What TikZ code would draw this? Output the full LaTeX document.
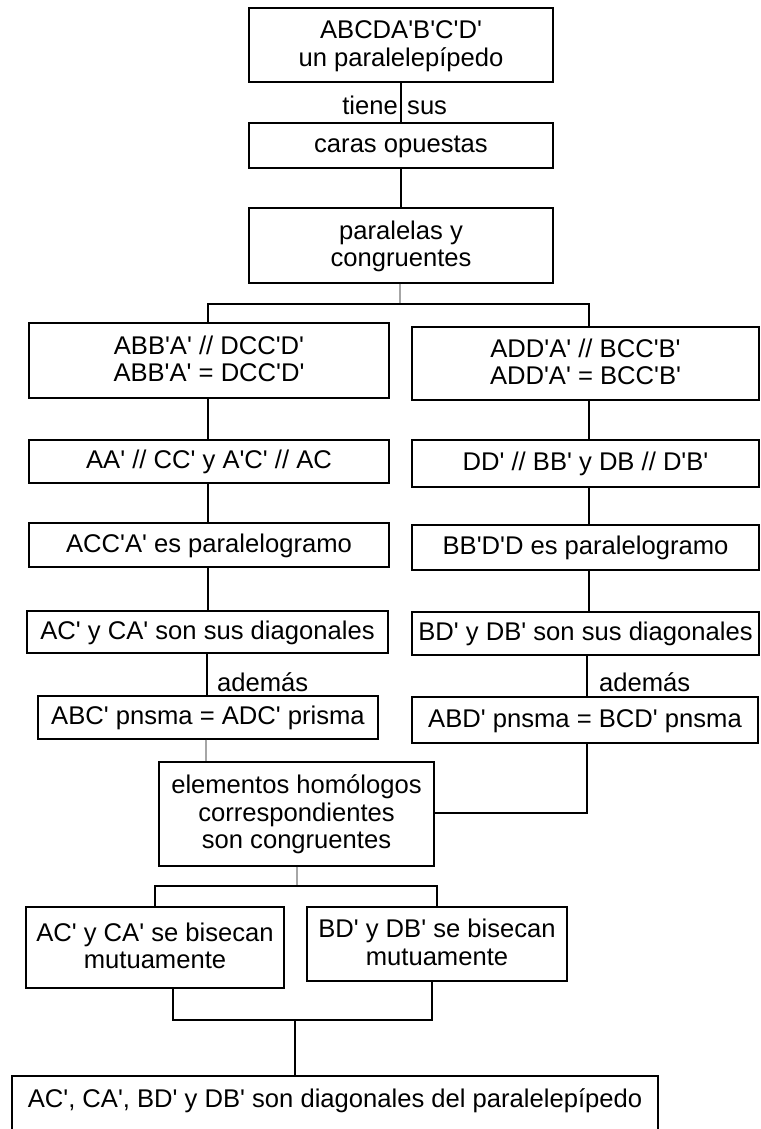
\documentclass[tikz,border=0pt]{standalone}
\usepackage{fontspec}
\newfontfamily\lib{Liberation Sans}
\newcommand\fs{\lib\fontsize{25.6}{27.5}\selectfont}
\newcommand\stt{\rule[-5pt]{0pt}{25pt}}
\begin{document}
\begin{tikzpicture}[x=1pt,y=-1pt,
 box/.style={draw,line width=1.4pt,inner sep=0pt,align=center,font=\fs},
 lbl/.style={inner sep=0pt,font=\fs},
 conn/.style={line width=1.4pt},
 faint/.style={line width=1.4pt,draw=black!35}]
\useasboundingbox (0,0) rectangle (760,1129);
\fill[white] (0,0) rectangle (760,1129);

% top column
\node[box,minimum width=304pt,minimum height=74pt] (n1) at (401,45) {\stt ABCDA'B'C'D'\\un paralelepípedo\stt};
\node[box,minimum width=304pt,minimum height=45pt] (n2) at (401,145.5) {\stt caras opuestas\stt};
\node[box,minimum width=304pt,minimum height=75pt] (n3) at (401,245.5) {\stt paralelas y\\congruentes\stt};
\node[lbl,anchor=base east] (t1) at (398,114) {tiene};
\node[lbl,anchor=base west] (t2) at (407,114) {sus};

% left column
\node[box,minimum width=360pt,minimum height=75pt] (L1) at (209,360.5) {\stt ABB'A' // DCC'D'\\ABB'A' = DCC'D'\stt};
\node[box,minimum width=360pt,minimum height=43pt] (L2) at (209,461.5) {\stt AA' // CC' y A'C' // AC\stt};
\node[box,minimum width=360pt,minimum height=44pt] (L3) at (209,545) {\stt ACC'A' es paralelogramo\stt};
\node[box,minimum width=361pt,minimum height=42pt] (L4) at (207.5,632) {\stt AC' y CA' son sus diagonales\stt};
\node[box,minimum width=340pt,minimum height=43pt] (L5) at (208,717.5) {\stt ABC' pnsma = ADC' prisma\stt};
\node[lbl,anchor=base west] (a1) at (217,691) {además};

% right column
\node[box,minimum width=347pt,minimum height=73pt] (R1) at (585.5,363.5) {\stt ADD'A' // BCC'B'\\ADD'A' = BCC'B'\stt};
\node[box,minimum width=347pt,minimum height=47pt] (R2) at (585.5,463.5) {\stt DD' // BB' y DB // D'B'\stt};
\node[box,minimum width=347pt,minimum height=45pt] (R3) at (585.5,547.5) {\stt BB'D'D es paralelogramo\stt};
\node[box,minimum width=347pt,minimum height=43pt] (R4) at (585.5,633.5) {\stt BD' y DB' son sus diagonales\stt};
\node[box,minimum width=346pt,minimum height=46pt] (R5) at (585,720) {\stt ABD' pnsma = BCD' pnsma\stt};
\node[lbl,anchor=base west] (a2) at (599,691) {además};

% lower part
\node[box,minimum width=275pt,minimum height=104pt] (E) at (296.5,814) {\stt elementos homólogos\\correspondientes\\son congruentes\stt};
\node[box,minimum width=258pt,minimum height=81pt] (B1) at (155,947.5) {\stt AC' y CA' se bisecan\\mutuamente\stt};
\node[box,minimum width=260pt,minimum height=74pt] (B2) at (437,944) {\stt BD' y DB' se bisecan\\mutuamente\stt};
\node[draw,line width=1.4pt,inner sep=0pt,font=\fs,anchor=base,minimum width=646pt,text height=31pt,text depth=33pt] (F) at (335,1107) {AC', CA', BD' y DB' son diagonales del paralelepípedo};

% coordinates
\coordinate (j1) at (400,304);
\coordinate (jl) at (208,304);
\coordinate (jr) at (589,304);
\coordinate (xl) at (208,0);
\coordinate (xl2) at (207,0);
\coordinate (xr) at (589,0);
\coordinate (xr2) at (587,0);
\coordinate (xe) at (206,0);
\coordinate (k) at (587,813);
\coordinate (m) at (297,886);
\coordinate (ml) at (155,886);
\coordinate (mr) at (437,886);
\coordinate (p1) at (173,1020);
\coordinate (p2) at (432,1020);
\coordinate (p) at (295,1020);

% connectors
\draw[conn] (n1.south) -- (n2.north);
\draw[conn] (n2.south) -- (n3.north);
\draw[faint] (n3.south -| j1) -- (j1);
\draw[conn] (L1.north -| jl) |- (jr) -- (R1.north -| jr);

\draw[conn] (L1.south -| xl) -- (L2.north -| xl);
\draw[conn] (L2.south -| xl) -- (L3.north -| xl);
\draw[conn] (L3.south -| xl) -- (L4.north -| xl);
\draw[conn] (L4.south -| xl2) -- (L5.north -| xl2);

\draw[conn] (R1.south -| xr) -- (R2.north -| xr);
\draw[conn] (R2.south -| xr) -- (R3.north -| xr);
\draw[conn] (R3.south -| xr) -- (R4.north -| xr);
\draw[conn] (R4.south -| xr2) -- (R5.north -| xr2);

\draw[faint] (L5.south -| xe) -- (E.north -| xe);
\draw[conn] (R5.south -| k) -- (k) -- (E.east |- k);

\draw[faint] (E.south -| m) -- (m);
\draw[conn] (B1.north -| ml) |- (mr) -- (B2.north -| mr);

\draw[conn] (B1.south -| p1) |- (p2) -- (B2.south -| p2);
\draw[conn] (p) -- (F.north -| p);
\end{tikzpicture}
\end{document}
